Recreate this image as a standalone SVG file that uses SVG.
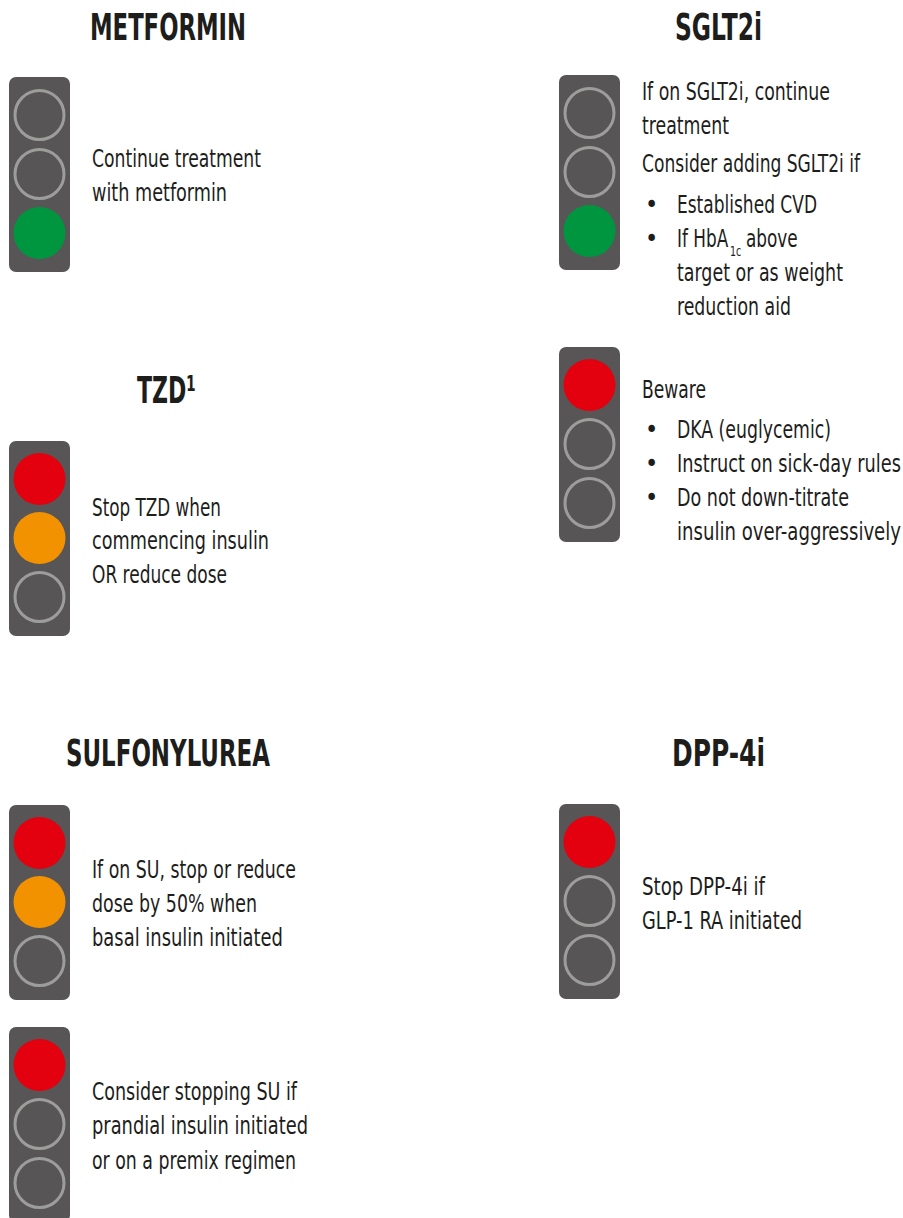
<svg xmlns="http://www.w3.org/2000/svg" xmlns:xlink="http://www.w3.org/1999/xlink" width="903" height="1218" viewBox="0 0 903 1218">
<style>
.h{font-family:"Liberation Sans Narrow","DejaVu Sans Condensed","Liberation Sans",sans-serif;font-weight:bold;font-size:37px;fill:#1d1d1b;text-anchor:middle}
.t{font-family:"Liberation Sans Narrow","DejaVu Sans Condensed","Liberation Sans",sans-serif;font-size:25px;fill:#1d1d1b}
.box{fill:#575556}
.off{fill:none;stroke:#9d9d9c;stroke-width:3}
.red{fill:#e3000f}
.amb{fill:#f39200}
.grn{fill:#009640}
</style>
<defs>
<rect id="housing" class="box" x="0" y="0" width="61" height="195" rx="7"/>
<circle id="lampoff" class="off" cx="30.5" cy="0" r="24.5"/>
</defs>

<g id="headings">
<text class="h" x="168" y="40" textLength="156" lengthAdjust="spacingAndGlyphs">METFORMIN</text>
<text class="h" x="718.5" y="40" textLength="87" lengthAdjust="spacingAndGlyphs">SGLT2i</text>
<text class="h" x="166.5" y="403" textLength="59" lengthAdjust="spacingAndGlyphs">TZD¹</text>
<text class="h" x="168" y="766" textLength="204" lengthAdjust="spacingAndGlyphs">SULFONYLUREA</text>
<text class="h" x="718.5" y="766" textLength="93" lengthAdjust="spacingAndGlyphs">DPP-4i</text>
</g>

<g id="metformin" transform="translate(9,77)">
<use xlink:href="#housing"/>
<use xlink:href="#lampoff" y="38"/>
<use xlink:href="#lampoff" y="97"/>
<circle class="grn" cx="30.5" cy="156" r="26"/>
</g>
<g id="metformin-text">
<text class="t" x="92" y="167" textLength="169" lengthAdjust="spacingAndGlyphs">Continue treatment</text>
<text class="t" x="92" y="201" textLength="135" lengthAdjust="spacingAndGlyphs">with metformin</text>
</g>

<g id="tzd" transform="translate(9,441)">
<use xlink:href="#housing"/>
<circle class="red" cx="30.5" cy="38" r="26"/>
<circle class="amb" cx="30.5" cy="97" r="26"/>
<use xlink:href="#lampoff" y="156"/>
</g>
<g id="tzd-text">
<text class="t" x="92" y="516" textLength="129" lengthAdjust="spacingAndGlyphs">Stop TZD when</text>
<text class="t" x="92" y="549" textLength="177" lengthAdjust="spacingAndGlyphs">commencing insulin</text>
<text class="t" x="92" y="583" textLength="135" lengthAdjust="spacingAndGlyphs">OR reduce dose</text>
</g>

<g id="su-basal" transform="translate(9,805)">
<use xlink:href="#housing"/>
<circle class="red" cx="30.5" cy="38" r="26"/>
<circle class="amb" cx="30.5" cy="97" r="26"/>
<use xlink:href="#lampoff" y="156"/>
</g>
<g id="su-basal-text">
<text class="t" x="92" y="878" textLength="204" lengthAdjust="spacingAndGlyphs">If on SU, stop or reduce</text>
<text class="t" x="92" y="912" textLength="165" lengthAdjust="spacingAndGlyphs">dose by 50% when</text>
<text class="t" x="92" y="946" textLength="191" lengthAdjust="spacingAndGlyphs">basal insulin initiated</text>
</g>

<g id="su-prandial" transform="translate(9,1027)">
<use xlink:href="#housing"/>
<circle class="red" cx="30.5" cy="38" r="26"/>
<use xlink:href="#lampoff" y="97"/>
<use xlink:href="#lampoff" y="156"/>
</g>
<g id="su-prandial-text">
<text class="t" x="92" y="1100" textLength="205" lengthAdjust="spacingAndGlyphs">Consider stopping SU if</text>
<text class="t" x="92" y="1134" textLength="216" lengthAdjust="spacingAndGlyphs">prandial insulin initiated</text>
<text class="t" x="92" y="1169" textLength="204" lengthAdjust="spacingAndGlyphs">or on a premix regimen</text>
</g>

<g id="sglt2-green" transform="translate(559,75)">
<use xlink:href="#housing"/>
<use xlink:href="#lampoff" y="38"/>
<use xlink:href="#lampoff" y="97"/>
<circle class="grn" cx="30.5" cy="156" r="26"/>
</g>
<g id="sglt2-green-text">
<text class="t" x="642" y="100" textLength="188" lengthAdjust="spacingAndGlyphs">If on SGLT2i, continue</text>
<text class="t" x="642" y="134" textLength="87" lengthAdjust="spacingAndGlyphs">treatment</text>
<text class="t" transform="matrix(0.75 0 0 1 642 172)" x="0" y="0" textLength="290.7" lengthAdjust="spacingAndGlyphs">Consider adding SGLT2i if</text>
<text class="t" x="645" y="213">•</text>
<text class="t" x="677" y="213" textLength="140" lengthAdjust="spacingAndGlyphs">Established CVD</text>
<text class="t" x="645" y="247">•</text>
<text class="t" transform="matrix(0.75 0 0 1 677 247)" x="0" y="0">If HbA<tspan x="70.7" dy="9" font-size="14">1c</tspan><tspan x="92" dy="-9">above</tspan></text>
<text class="t" x="677" y="281" textLength="166" lengthAdjust="spacingAndGlyphs">target or as weight</text>
<text class="t" x="677" y="315" textLength="114" lengthAdjust="spacingAndGlyphs">reduction aid</text>
</g>

<g id="sglt2-red" transform="translate(559,347)">
<use xlink:href="#housing"/>
<circle class="red" cx="30.5" cy="38" r="26"/>
<use xlink:href="#lampoff" y="97"/>
<use xlink:href="#lampoff" y="156"/>
</g>
<g id="sglt2-red-text">
<text class="t" x="642" y="398" textLength="64" lengthAdjust="spacingAndGlyphs">Beware</text>
<text class="t" x="645" y="438">•</text>
<text class="t" x="677" y="438" textLength="154" lengthAdjust="spacingAndGlyphs">DKA (euglycemic)</text>
<text class="t" x="645" y="472">•</text>
<text class="t" transform="matrix(0.74 0 0 1 677 472)" x="0" y="0" textLength="302.7" lengthAdjust="spacingAndGlyphs">Instruct on sick-day rules</text>
<text class="t" x="645" y="506">•</text>
<text class="t" x="677" y="506" textLength="172" lengthAdjust="spacingAndGlyphs">Do not down-titrate</text>
<text class="t" transform="matrix(0.74 0 0 1 677 540)" x="0" y="0" textLength="302.7" lengthAdjust="spacingAndGlyphs">insulin over-aggressively</text>
</g>

<g id="dpp4" transform="translate(559,804)">
<use xlink:href="#housing"/>
<circle class="red" cx="30.5" cy="38" r="26"/>
<use xlink:href="#lampoff" y="97"/>
<use xlink:href="#lampoff" y="156"/>
</g>
<g id="dpp4-text">
<text class="t" x="642" y="895" textLength="123" lengthAdjust="spacingAndGlyphs">Stop DPP-4i if</text>
<text class="t" x="642" y="929" textLength="160" lengthAdjust="spacingAndGlyphs">GLP-1 RA initiated</text>
</g>

<g id="connectors"></g>
</svg>
